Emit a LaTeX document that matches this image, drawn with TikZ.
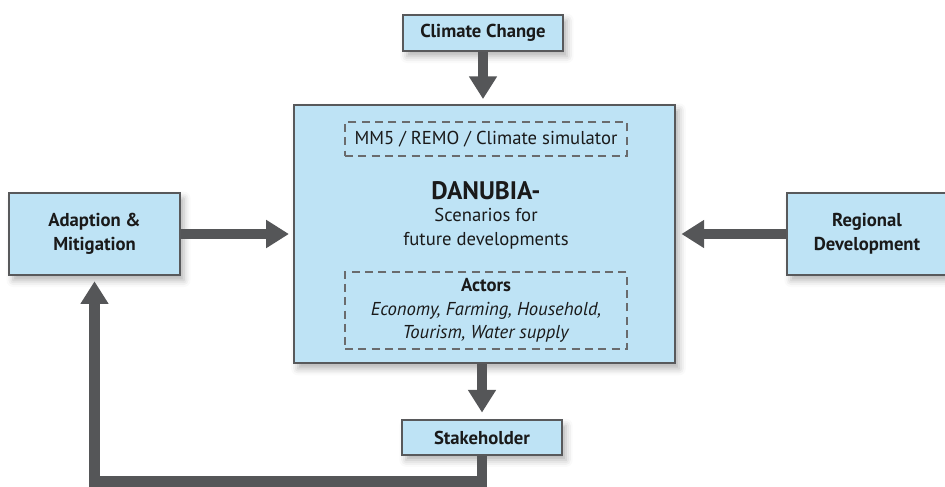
\documentclass[tikz,border=0pt]{standalone}
\usepackage{fontspec}
\setmainfont{PT Sans}
\usepackage{xcolor}
\usepackage{tikz}
\usetikzlibrary{arrows.meta,calc,positioning,shadows.blur}
\definecolor{boxblue}{HTML}{BEE3F5}
\definecolor{edgegray}{HTML}{58595B}
\definecolor{arrowgray}{HTML}{555658}
\definecolor{dashgray}{HTML}{6A6B6D}
\definecolor{textblack}{HTML}{1A1A1A}

\tikzset{
  box/.style={draw=edgegray, line width=1.4pt, fill=boxblue, align=center,
    text=textblack, inner sep=0pt,
    font=\fontsize{14}{18}\selectfont\bfseries,
    blur shadow={shadow xshift=3pt, shadow yshift=-4pt,
      shadow blur radius=5pt, shadow opacity=30}},
  dashbox/.style={draw=dashgray, line width=1.4pt, dash pattern=on 6pt off 4pt,
    align=center, text=textblack, inner sep=0pt,
    font=\fontsize{14}{17.6}\selectfont},
  flow/.style={arrowgray, line width=8pt, -{Triangle[width=20pt,length=17pt]}},
}

\begin{document}
\begin{tikzpicture}[x=0.75pt,y=-0.75pt]
    \useasboundingbox (0,0) rectangle (945,486);

    % boxes
    \node[box, minimum width=120pt, minimum height=27pt] (clim) at (483,33) {Climate Change};
    \node[box, minimum width=286pt, minimum height=194pt] (danubia) at (484.5,234) {};
    \node[box, minimum width=128pt, minimum height=61.5pt] (adapt) at (94.5,234) {Adaption \&\\Mitigation};
    \node[box, minimum width=120pt, minimum height=61.5pt] (region) at (867,234) {Regional\\Development};
    \node[box, minimum width=120pt, minimum height=26pt] (stake) at (482,437.5) {Stakeholder};

    % inside the DANUBIA box
    \node[dashbox, minimum width=211.5pt, minimum height=25.5pt] (sim) at (486,139)
        {MM5 / REMO / Climate simulator};
    \node[text=textblack, font=\fontsize{19}{22}\selectfont\bfseries] (title) at (486,191) {DANUBIA-};
    \node[text=textblack, align=center, font=\fontsize{14}{18}\selectfont, below=-1pt of title] (scen)
        {Scenarios for\\future developments};
    \node[dashbox, minimum width=211.5pt, minimum height=58pt] (actors) at (486,310.5)
        {\textbf{Actors}\\\textit{Economy, Farming, Household,}\\\textit{Tourism, Water supply}};

    % connectors
    \draw[flow, shorten >=3.5pt] (clim.south) -- (clim.south |- danubia.north);
    \draw[flow, shorten >=3pt] (adapt.east) -- (danubia.west);
    \draw[flow, shorten >=4pt] (region.west) -- (danubia.east);
    \draw[flow, shorten >=5pt] (stake.north |- danubia.south) -- (stake.north);
    \draw[flow, shorten >=4pt] (stake.south) -- ++(0,26) -| (adapt.south);
\end{tikzpicture}
\end{document}
